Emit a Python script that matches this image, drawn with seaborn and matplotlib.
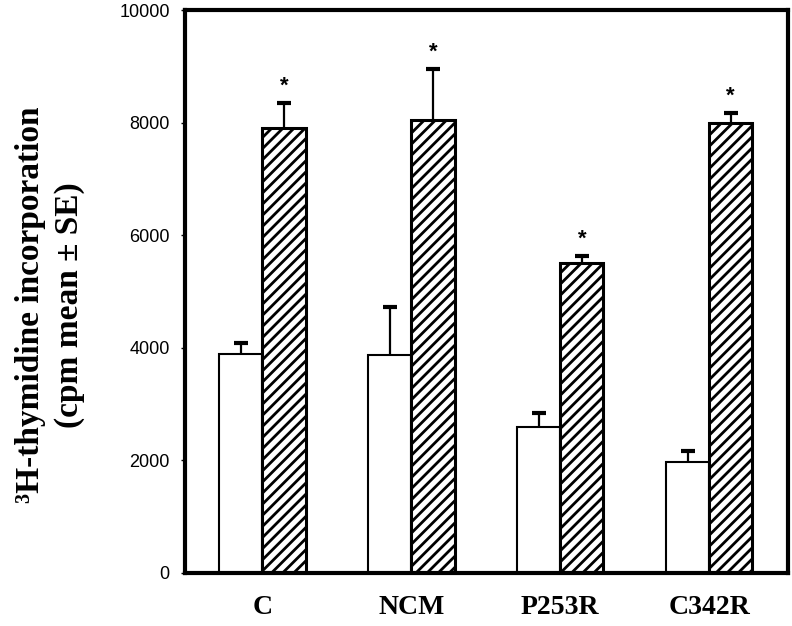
import pandas as pd
import matplotlib.pyplot as plt
import seaborn as sns

# Data proliferasi
kelompok = ['C', 'NCM', 'P253R', 'C342R']
perlakuan = ['kontrol', 'stimulasi']
nilai_kontrol = [3890, 3870, 2590, 1970]
se_kontrol = [190, 855, 250, 200]
nilai_stimulasi = [7900, 8050, 5505, 7990]
se_stimulasi = [450, 900, 125, 180]

df = pd.DataFrame({
    'Kelompok': kelompok * 2,
    'Perlakuan': [perlakuan[0]] * 4 + [perlakuan[1]] * 4,
    'cpm': nilai_kontrol + nilai_stimulasi,
    'SE': se_kontrol + se_stimulasi,
})

sns.set_style('ticks')
plt.rcParams['font.family'] = ['Liberation Sans', 'DejaVu Sans']
plt.rcParams['hatch.linewidth'] = 2.0
for k in ['text.color', 'axes.labelcolor', 'xtick.color', 'ytick.color', 'axes.edgecolor']:
    plt.rcParams[k] = 'black'

fig = plt.figure(figsize=(7.92, 6.26), dpi=100)
ax = fig.add_axes([0.2336, 0.0847, 0.7614, 0.8993])
sns.barplot(data=df, x='Kelompok', y='cpm', hue='Perlakuan', order=kelompok,
            hue_order=perlakuan, palette=['white', 'white'], edgecolor='black',
            linewidth=1.5, width=0.58, errorbar=None, legend=False, ax=ax)

# pola arsir untuk bar stimulasi, error bar ke atas saja
for cont, h, nama in zip(ax.containers, ['', '///'], perlakuan):
    sub = df[df['Perlakuan'] == nama].set_index('Kelompok').loc[kelompok]
    for bar, v, e in zip(cont.patches, sub['cpm'], sub['SE']):
        bar.set_hatch(h)
        if h:
            bar.set_linewidth(2.2)
        xc = bar.get_x() + bar.get_width() / 2
        eb = ax.errorbar(xc, v, yerr=[[0], [e]], fmt='none', ecolor='black',
                         elinewidth=1.6, capsize=5, capthick=3, zorder=1)
        eb[1][0].set_visible(False)  # tutup bawah tidak dipakai
        if nama == 'stimulasi':
            ax.text(xc, v + e + 300, '*', ha='center', va='center',
                    fontsize=16, fontweight='bold')

ax.set_xlim(-0.52, 3.53)
ax.set_ylim(0, 10000)
ax.set_yticks([0, 2000, 4000, 6000, 8000, 10000])
ax.tick_params(axis='y', labelsize=13, length=3, width=1, pad=8)
ax.tick_params(axis='x', length=0, pad=16)
for lbl in ax.get_xticklabels():
    lbl.set_fontfamily('Liberation Serif')
    lbl.set_fontweight('bold')
    lbl.set_fontsize(20)
for s in ax.spines.values():
    s.set_linewidth(3)
ax.set_xlabel('')
ax.set_ylabel('³H-thymidine incorporation\n(cpm mean ± SE)', fontfamily='Liberation Serif',
              fontweight='bold', fontsize=24, linespacing=1.3)
ax.yaxis.set_label_coords(-0.166, 0.476)
plt.savefig('out.png', dpi=100)
